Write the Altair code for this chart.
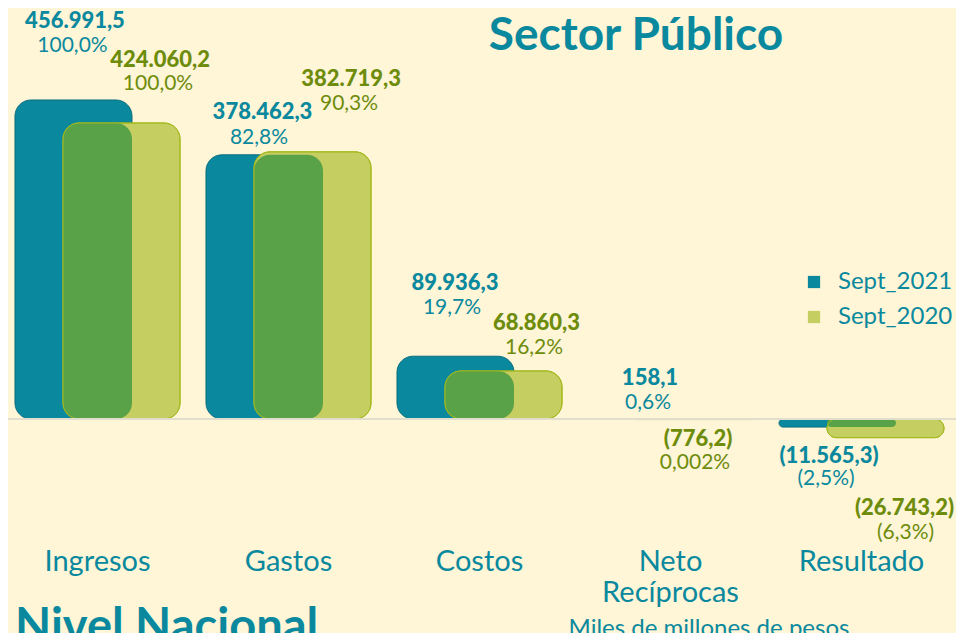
import altair as alt
import pandas as pd

# ---------------- data ----------------
CATEGORIES = ["Ingresos", "Gastos", "Costos", "Neto\nRecíprocas", "Resultado"]
SERIES = ["Sept_2021", "Sept_2020"]
SEPT_2021 = [456991.5, 378462.3, 89936.3, 158.1, -11565.3]
SEPT_2020 = [424060.2, 382719.3, 68860.3, -776.2, -26743.2]
VAL_TXT_2021 = ["456.991,5", "378.462,3", "89.936,3", "158,1", "(11.565,3)"]
PCT_TXT_2021 = ["100,0%", "82,8%", "19,7%", "0,6%", "(2,5%)"]
VAL_TXT_2020 = ["424.060,2", "382.719,3", "68.860,3", "(776,2)", "(26.743,2)"]
PCT_TXT_2020 = ["100,0%", "90,3%", "16,2%", "0,002%", "(6,3%)"]

# ---------------- layout / style ----------------
W, H = 948, 625
STEP = 191.0          # px per category
X0 = 89.5             # px of first category centre
X_DOMAIN = [-X0 / STEP, (W - X0) / STEP]
K = 6.9805e-4         # px per unit (value axis)
BASE_Y = 411.0        # px of the zero line
Y_DOMAIN = [-(H - BASE_Y) / K, BASE_Y / K]
HALF = 0.3063         # half bar width (category units)
SHIFT = 0.1257        # offset of each series from category centre
R = 16

BG = "#FFF5D7"
TEAL = "#0A899E"
TEAL_DARK = "#0A6E7E"
GREEN = "#C5CE60"
GREEN_STROKE = "#A4B91B"
OVERLAP = "#5AA247"
OLIVE = "#6E8C0C"
FONT = "Lato"

# label offsets (px): value label relative to bar centre / bar end, pct relative to value label
VAL_OFF_2021 = [(1.5, -79), (-2, -43), (-0.5, -73), (3.5, -41), (-8.5, 29)]
PCT_OFF_2021 = [(-2.5, 25), (-3.5, 26), (-3, 25), (-2, 25), (-3, 23)]
VAL_OFF_2020 = [(38.5, -63), (38.5, -73), (33, -48), (3.5, 19), (19, 70)]
PCT_OFF_2020 = [(-2, 24), (-2, 25), (-2.5, 25), (-3, 24), (1, 25)]

# ---------------- frames ----------------
bar_rows = []
for i in range(len(CATEGORIES)):
    bar_rows.append(dict(idx=i, series="Sept_2021", value=SEPT_2021[i], side=-1))
    bar_rows.append(dict(idx=i, series="Sept_2020", value=SEPT_2020[i], side=1))
bars_df = pd.DataFrame(bar_rows)

ov_rows = []
for i in range(len(CATEGORIES)):
    a, b = SEPT_2021[i], SEPT_2020[i]
    if a * b > 0:
        ov = min(abs(a), abs(b)) * (1 if a > 0 else -1)
        ov_rows.append(dict(idx=i, value=ov))
ov_df = pd.DataFrame(ov_rows)

lab_rows = []
for i in range(len(CATEGORIES)):
    for vals, vtxt, ptxt, voff, poff, side, col in [
        (SEPT_2021, VAL_TXT_2021, PCT_TXT_2021, VAL_OFF_2021, PCT_OFF_2021, -1, TEAL),
        (SEPT_2020, VAL_TXT_2020, PCT_TXT_2020, VAL_OFF_2020, PCT_OFF_2020, 1, OLIVE),
    ]:
        xc = i + side * SHIFT + voff[i][0] / STEP
        yv = vals[i] - voff[i][1] / K
        lab_rows.append(dict(x=xc, y=yv, text=vtxt[i], color=col, kind="val"))
        lab_rows.append(dict(x=xc + poff[i][0] / STEP, y=yv - poff[i][1] / K,
                             text=ptxt[i], color=col, kind="pct"))
lab_df = pd.DataFrame(lab_rows)

cat_df = pd.DataFrame({"idx": list(range(len(CATEGORIES))), "cat": CATEGORIES})

xs = alt.Scale(domain=X_DOMAIN, nice=False, zero=False)
ys = alt.Scale(domain=Y_DOMAIN, nice=False, zero=False)

baseline = alt.Chart(pd.DataFrame({"v": [0]})).mark_rule(
    color="#E2DECE", strokeWidth=2
).encode(y=alt.Y("v:Q", scale=ys, axis=None), x=alt.value(-6), x2=alt.value(W + 8))

bars = alt.Chart(bars_df).transform_calculate(
    x0=f"datum.idx + datum.side*{SHIFT} - {HALF}",
    x1=f"datum.idx + datum.side*{SHIFT} + {HALF}",
).mark_bar(cornerRadius=R, strokeWidth=1).encode(
    x=alt.X("x0:Q", scale=xs, axis=None),
    x2="x1:Q",
    y=alt.Y("value:Q", scale=ys, axis=None),
    y2=alt.datum(0),
    color=alt.Color(
        "series:N",
        scale=alt.Scale(domain=SERIES, range=[TEAL, GREEN]),
        legend=alt.Legend(
            title=None, orient="none", legendX=794, legendY=262,
            symbolType="square", symbolSize=150, symbolStrokeWidth=0,
            labelFont=FONT, labelFontSize=24, labelColor=TEAL,
            labelOffset=12, rowPadding=11, padding=0,
        ),
    ),
    stroke=alt.Stroke("series:N", scale=alt.Scale(domain=SERIES, range=[TEAL_DARK, GREEN_STROKE]), legend=None),
    order=alt.Order("side:Q"),
)

overlap = alt.Chart(ov_df).transform_calculate(
    x0=f"datum.idx - {HALF - SHIFT}",
    x1=f"datum.idx + {HALF - SHIFT}",
).mark_bar(cornerRadius=R, color=OVERLAP).encode(
    x=alt.X("x0:Q", scale=xs, axis=None),
    x2="x1:Q",
    y=alt.Y("value:Q", scale=ys, axis=None),
    y2=alt.datum(0),
)

outline = alt.Chart(bars_df).transform_filter("datum.series == 'Sept_2020'").transform_calculate(
    x0=f"datum.idx + {SHIFT} - {HALF}",
    x1=f"datum.idx + {SHIFT} + {HALF}",
).mark_bar(cornerRadius=R, fill=GREEN, fillOpacity=0, stroke=GREEN_STROKE, strokeWidth=1).encode(
    x=alt.X("x0:Q", scale=xs, axis=None),
    x2="x1:Q",
    y=alt.Y("value:Q", scale=ys, axis=None),
    y2=alt.datum(0),
)

val_labels = alt.Chart(lab_df).transform_filter("datum.kind == 'val'").mark_text(
    font=FONT, fontSize=22, fontWeight=900, baseline="middle", align="center"
).encode(
    x=alt.X("x:Q", scale=xs, axis=None),
    y=alt.Y("y:Q", scale=ys, axis=None),
    text="text:N",
    color=alt.Color("color:N", scale=None),
)

pct_labels = alt.Chart(lab_df).transform_filter("datum.kind == 'pct'").mark_text(
    font=FONT, fontSize=21, fontWeight="normal", baseline="middle", align="center"
).encode(
    x=alt.X("x:Q", scale=xs, axis=None),
    y=alt.Y("y:Q", scale=ys, axis=None),
    text="text:N",
    color=alt.Color("color:N", scale=None),
)

cat_labels = alt.Chart(cat_df).mark_text(
    font=FONT, fontSize=29, baseline="top", align="center", color=TEAL,
    lineBreak="\n", lineHeight=31,
).encode(
    x=alt.X("idx:Q", scale=xs, axis=None),
    y=alt.value(540),
    text="cat:N",
)

title_df = pd.DataFrame({
    "t": ["Sector Público", "Nivel Nacional", "Miles de millones de pesos"],
})
title1 = alt.Chart(title_df.iloc[[0]]).mark_text(
    font=FONT, fontSize=46, fontWeight="bold", color=TEAL, align="center", baseline="alphabetic"
).encode(x=alt.value(628), y=alt.value(42), text="t:N")
title2 = alt.Chart(title_df.iloc[[1]]).mark_text(
    font=FONT, fontSize=47, fontWeight="bold", color=TEAL, align="left", baseline="alphabetic"
).encode(x=alt.value(7), y=alt.value(634), text="t:N")
title3 = alt.Chart(title_df.iloc[[2]]).mark_text(
    font=FONT, fontSize=24, color=TEAL, align="center", baseline="alphabetic"
).encode(x=alt.value(701), y=alt.value(628), text="t:N")

chart = alt.layer(
    bars, overlap, outline, baseline, val_labels, pct_labels, cat_labels, title1, title2, title3
).properties(
    width=W, height=H, padding=0,
    autosize=alt.AutoSizeParams(type="none"),
    background=BG,
).configure_view(stroke=None)

chart.save("out.html", embed_options={"renderer": "svg", "actions": False})
